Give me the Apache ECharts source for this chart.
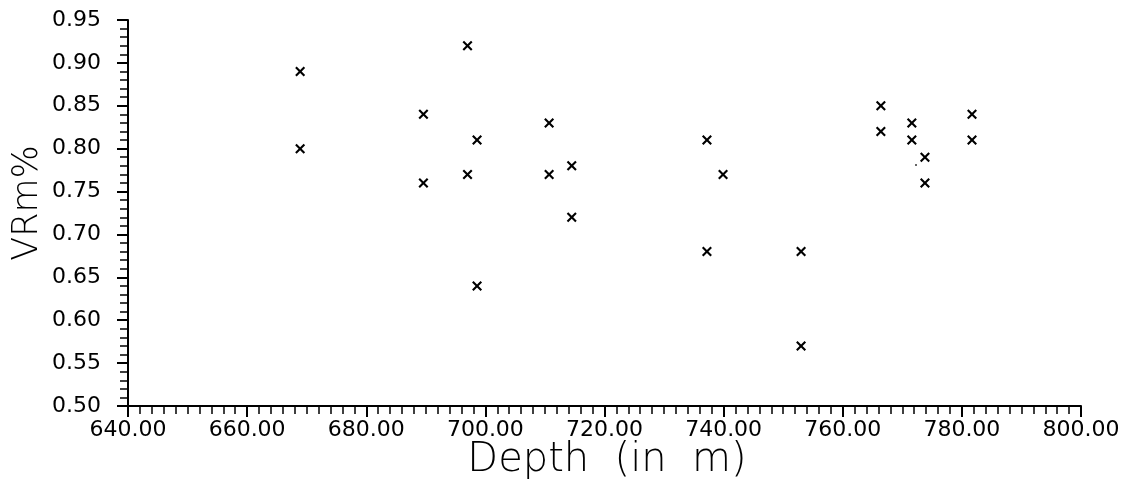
<!DOCTYPE html>
<html>
<head>
<meta charset="utf-8">
<script src="https://cdn.jsdelivr.net/npm/echarts@6/dist/echarts.min.js"></script>
<style>
html,body{margin:0;padding:0;background:#fff;}
#chart{width:1124px;height:490px;}
</style>
</head>
<body>
<div id="chart"></div>
<script>
const depth = [668.9, 668.9, 689.6, 689.6, 697.0, 697.0, 698.6, 698.6, 710.7, 710.7, 714.5, 714.5, 737.2, 737.2, 739.9, 753.0, 753.0, 766.4, 766.4, 771.6, 771.6, 773.8, 773.8, 781.7, 781.7];
const vrm = [0.89, 0.80, 0.84, 0.76, 0.92, 0.77, 0.81, 0.64, 0.83, 0.77, 0.78, 0.72, 0.81, 0.68, 0.77, 0.68, 0.57, 0.85, 0.82, 0.83, 0.81, 0.79, 0.76, 0.84, 0.81];
const dotDepth = [772.3];
const dotVrm = [0.781];
const xTitle = 'Depth  (in  m)';
const yTitle = 'VRm%';

const chart = echarts.init(document.getElementById('chart'), null, {renderer: 'canvas'});
const font = 'DejaVu Sans';
const cross = 'path://M1.5,0 L5,3.5 L8.5,0 L10,1.5 L6.5,5 L10,8.5 L8.5,10 L5,6.5 L1.5,10 L0,8.5 L3.5,5 L0,1.5 Z';

chart.setOption({
  animation: false,
  backgroundColor: '#fff',
  grid: {left: 128, right: 43, top: 20, bottom: 84},
  graphic: [
    {type: 'text', x: 607, y: 461, style: {text: xTitle, font: '200 40px "DejaVu Sans"', fill: '#000', align: 'center', verticalAlign: 'middle'}},
    {type: 'text', x: 28, y: 203, rotation: Math.PI / 2, style: {text: yTitle, font: '200 35px "DejaVu Sans"', fill: '#000', align: 'center', verticalAlign: 'middle'}}
  ],
  xAxis: {
    type: 'value', min: 640, max: 800, interval: 20,
    axisLine: {show: true, onZero: false, lineStyle: {color: '#000', width: 2}},
    axisTick: {show: true, length: 11, lineStyle: {color: '#000', width: 2}},
    minorTick: {show: true, splitNumber: 10, length: 8, lineStyle: {color: '#000', width: 1.5}},
    axisLabel: {margin: 13, fontFamily: font, fontSize: 22, color: '#000', formatter: v => v.toFixed(2)},
    splitLine: {show: false}
  },
  yAxis: {
    type: 'value', min: 0.5, max: 0.95, interval: 0.05,
    axisLine: {show: true, onZero: false, lineStyle: {color: '#000', width: 2}},
    axisTick: {show: true, length: 11, lineStyle: {color: '#000', width: 2}},
    minorTick: {show: true, splitNumber: 5, length: 8, lineStyle: {color: '#000', width: 1.5}},
    axisLabel: {margin: 27, fontFamily: font, fontSize: 22, color: '#000', formatter: v => v.toFixed(2)},
    splitLine: {show: false}
  },
  series: [
    {
      type: 'scatter',
      data: depth.map((d, i) => [d, vrm[i]]),
      symbol: cross, symbolSize: 10,
      itemStyle: {color: '#000', opacity: 1}
    },
    {
      type: 'scatter',
      data: dotDepth.map((d, i) => [d, dotVrm[i]]),
      symbol: 'circle', symbolSize: 2,
      itemStyle: {color: '#333', opacity: 1}
    }
  ]
});
</script>
</body>
</html>
